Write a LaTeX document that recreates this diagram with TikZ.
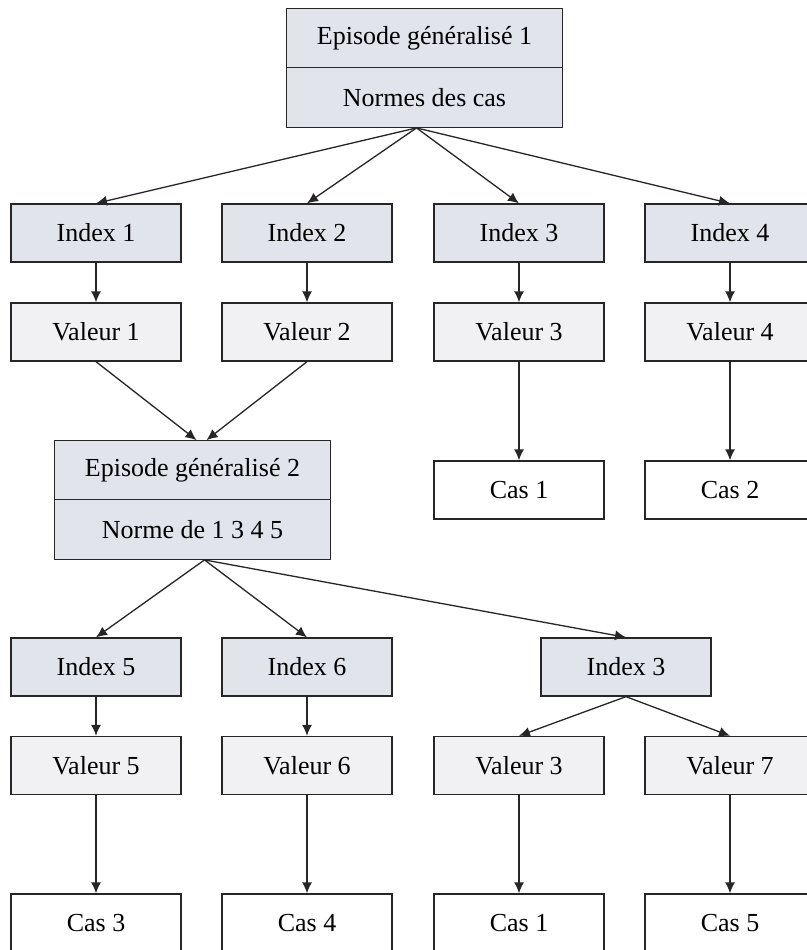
\documentclass[tikz,border=0pt]{standalone}
\usepackage{fontspec}
\setmainfont{Liberation Serif}
\usetikzlibrary{arrows.meta}
\definecolor{indexfill}{RGB}{226,228,236}
\definecolor{valfill}{RGB}{241,241,243}
\tikzset{
    box/.style={draw=black!85, line width=0.65pt, minimum width=85pt, minimum height=29pt,
        inner sep=0pt, font=\fontsize{13}{15}\selectfont},
    indexbox/.style={box, fill=indexfill},
    valbox/.style={box, fill=valfill},
    casbox/.style={box, fill=white},
    epbox/.style={box, fill=indexfill, minimum width=138pt, minimum height=29.75pt},
    link/.style={-{Latex[length=5.5pt,width=5pt]}, line width=0.65pt, black!85},
}
\begin{document}
\begin{tikzpicture}[x=0.5pt, y=-0.5pt]
    \clip (0,0) rectangle (807,950);
    \fill[white] (0,0) rectangle (807,950);

    %% First episode
    \node[epbox] (ep1a) at (424.5,38) {Episode généralisé 1};
    \node[epbox] (ep1b) at (424.5,97.5) {Normes des cas};

    % index -> valeur
    \foreach \i/\x in {1/96, 2/307, 3/519, 4/730} {
        \node[indexbox] (idx\i) at (\x,233) {Index \i};
        \node[valbox] (val\i) at (\x,332) {Valeur \i};
        \draw[link] ([xshift=-4pt]ep1b.south) -- (idx\i.north);
        \draw[link] (idx\i) -- (val\i);
    }

    % cas
    \node[casbox] (cas1) at (519,490) {Cas 1};
    \node[casbox] (cas2) at (730,490) {Cas 2};
    \draw[link] (val3) -- (cas1);
    \draw[link] (val4) -- (cas2);

    %% Second episode
    \node[epbox] (ep2a) at (192.5,470.5) {Episode généralisé 2};
    \node[epbox] (ep2b) at (192.5,529.5) {Norme de 1 3 4 5};
    \draw[link] (val1.south) -- ([xshift=2pt]ep2a.north);
    \draw[link] (val2.south) -- ([xshift=7pt]ep2a.north);

    % index -> valeur -> cas
    \node[indexbox] (idx5) at (96,667) {Index 5};
    \node[indexbox] (idx6) at (307,667) {Index 6};
    \node[indexbox] (idx3b) at (626,667) {Index 3};

    \node[valbox] (val5) at (96,765.5) {Valeur 5};
    \node[valbox] (val6) at (307,765.5) {Valeur 6};
    \node[valbox] (val3b) at (519,765.5) {Valeur 3};
    \node[valbox] (val7) at (730,765.5) {Valeur 7};

    \node[casbox] (cas3) at (96,923) {Cas 3};
    \node[casbox] (cas4) at (307,923) {Cas 4};
    \node[casbox] (cas1b) at (519,923) {Cas 1};
    \node[casbox] (cas5) at (730,923) {Cas 5};

    \foreach \n in {idx5, idx6, idx3b}
        \draw[link] ([xshift=6pt]ep2b.south) -- (\n.north);
    \draw[link] (idx5) -- (val5);
    \draw[link] (idx6) -- (val6);
    \draw[link] (idx3b.south) -- (val3b.north);
    \draw[link] (idx3b.south) -- (val7.north);
    \draw[link] (val5) -- (cas3);
    \draw[link] (val6) -- (cas4);
    \draw[link] (val3b) -- (cas1b);
    \draw[link] (val7) -- (cas5);

\end{tikzpicture}
\end{document}
